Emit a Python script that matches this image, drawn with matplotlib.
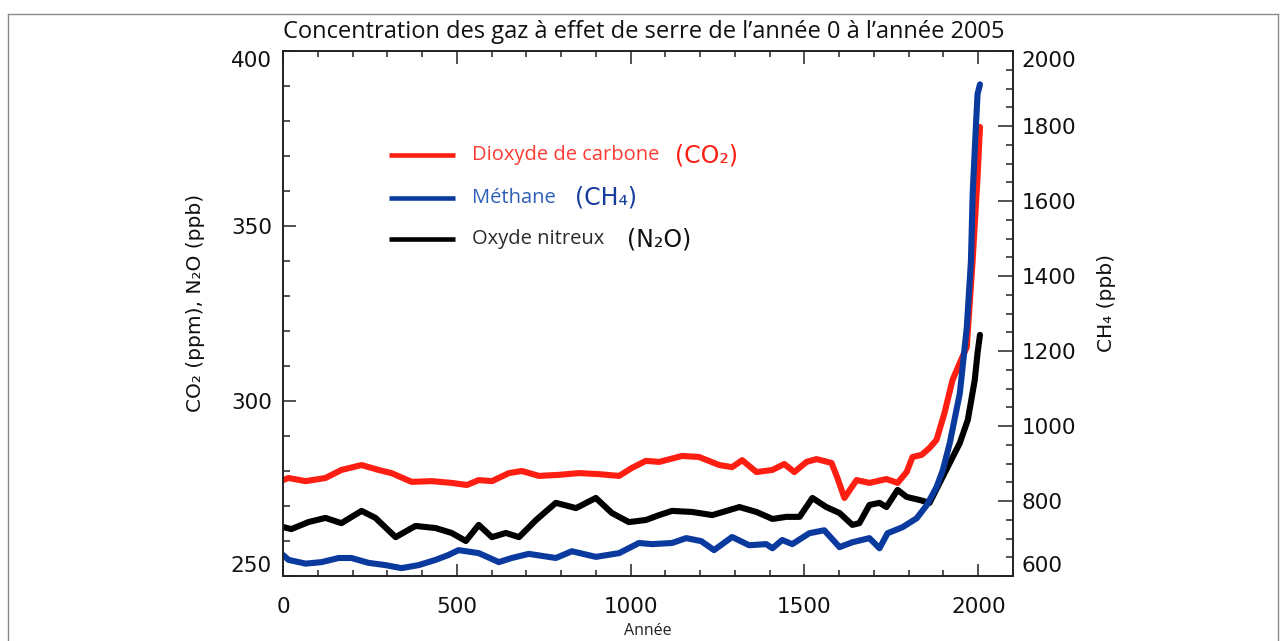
import matplotlib
matplotlib.use("Agg")
import matplotlib.pyplot as plt
from matplotlib.ticker import MultipleLocator
from matplotlib.lines import Line2D

# ---------------- data ----------------
co2_years = [0, 16, 65, 122, 168, 226, 275, 312, 370, 428, 485, 529, 563, 601, 650, 687,
             736, 794, 851, 909, 967, 1004, 1044, 1082, 1148, 1197, 1255, 1292, 1321, 1362,
             1408, 1442, 1471, 1506, 1535, 1578, 1595, 1615, 1650, 1687, 1736, 1768, 1794,
             1811, 1837, 1860, 1880, 1903, 1926, 1947, 1967, 1984, 1998, 2005]
co2_ppm = [277.4, 278.0, 277.1, 278.0, 280.3, 281.7, 280.3, 279.4, 276.9, 277.1, 276.6,
           276.0, 277.4, 277.1, 279.4, 280.0, 278.6, 278.9, 279.4, 279.1, 278.6, 280.9,
           282.9, 282.6, 284.3, 284.0, 281.7, 281.1, 283.1, 279.7, 280.3, 282.0, 279.7,
           282.6, 283.4, 282.3, 278.0, 272.3, 277.4, 276.6, 277.7, 276.6, 279.7, 284.0,
           284.6, 286.6, 288.9, 296.6, 306.0, 310.9, 315.4, 340.3, 364.0, 378.3]

n2o_years = [0, 24, 73, 122, 168, 226, 266, 324, 381, 439, 485, 526, 563, 601, 641, 679,
             728, 785, 843, 900, 946, 995, 1044, 1082, 1119, 1177, 1235, 1313, 1362, 1408,
             1448, 1486, 1523, 1563, 1601, 1638, 1658, 1687, 1716, 1736, 1768, 1794, 1832,
             1860, 1889, 1918, 1947, 1970, 1990, 1998, 2005]
n2o_ppb = [264.0, 263.4, 265.4, 266.6, 265.1, 268.6, 266.6, 261.1, 264.3, 263.7, 262.3,
           260.0, 264.6, 261.1, 262.3, 261.1, 266.0, 270.9, 269.4, 272.3, 268.0, 265.4,
           266.0, 267.4, 268.6, 268.3, 267.4, 269.7, 268.3, 266.3, 266.9, 266.9, 272.3,
           269.7, 268.0, 264.6, 265.1, 270.3, 270.9, 269.7, 274.6, 272.6, 271.7, 270.9,
           276.6, 282.3, 288.0, 294.6, 306.0, 313.7, 318.9]

ch4_years = [0, 16, 65, 111, 160, 197, 246, 295, 341, 390, 439, 476, 505, 563, 621, 658,
             707, 785, 831, 900, 967, 1024, 1062, 1119, 1160, 1203, 1240, 1292, 1341, 1390,
             1408, 1436, 1465, 1514, 1557, 1601, 1638, 1687, 1716, 1739, 1782, 1823, 1852,
             1880, 1898, 1918, 1947, 1967, 1979, 1984, 1993, 1998, 2005]
ch4_ppb = [656, 643, 633, 637, 648, 648, 635, 629, 621, 629, 643, 656, 669, 661, 637, 648,
           659, 648, 666, 651, 661, 688, 685, 688, 701, 693, 669, 704, 682, 685, 674, 696,
           685, 714, 722, 677, 690, 701, 674, 714, 730, 754, 789, 837, 882, 954, 1087, 1262,
           1440, 1619, 1794, 1885, 1911]

x_ticks = [0, 500, 1000, 1500, 2000]
left_ticks = [250, 300, 350, 400]
right_ticks = [600, 800, 1000, 1200, 1400, 1600, 1800, 2000]

title = "Concentration des gaz à effet de serre de l’année 0 à l’année 2005"
xlabel = "Année"
ylabel_left = "CO₂ (ppm), N₂O (ppb)"
ylabel_right = "CH₄ (ppb)"

RED = "#ff1e12"
BLUE = "#0a3a9e"
BLACK = "#000000"

# ---------------- figure ----------------
W, H = 1283, 641
fig = plt.figure(figsize=(W / 100, H / 100), dpi=100)
fig.patch.set_facecolor("white")

L, R, T, B = 283, 1013, 51, 576
ax = fig.add_axes([L / W, 1 - B / H, (R - L) / W, (B - T) / H])
ax2 = ax.twinx()

lw = 4.4
ax.plot(co2_years, co2_ppm, color=RED, lw=lw, solid_joinstyle="round", solid_capstyle="round")
ax.plot(n2o_years, n2o_ppb, color=BLACK, lw=lw, solid_joinstyle="round", solid_capstyle="round")
ax2.plot(ch4_years, ch4_ppb, color=BLUE, lw=lw, solid_joinstyle="round", solid_capstyle="round")

ax.set_xlim(0, 2100)
ax.set_ylim(250, 400)
ax2.set_ylim(600, 2000)

ax.set_xticks(x_ticks)
ax.xaxis.set_minor_locator(MultipleLocator(100))
ax.set_yticks(left_ticks)
ax.yaxis.set_minor_locator(MultipleLocator(10))
ax2.set_yticks(right_ticks)
ax2.yaxis.set_minor_locator(MultipleLocator(50))

for lab in ax.get_xticklabels() + ax.get_yticklabels() + ax2.get_yticklabels():
    lab.set_fontfamily("DejaVu Sans")
    lab.set_fontsize(15.5)
    lab.set_color("#111111")

# end labels nudged inside the axis span, as in the reference
for a in (ax, ax2):
    ticks = a.yaxis.get_major_ticks()
    ticks[0].label1.set_va("bottom")
    ticks[0].label2.set_va("bottom")
    ticks[-1].label1.set_va("top")
    ticks[-1].label2.set_va("top")

spine_c = "#222222"
for a in (ax, ax2):
    for s in a.spines.values():
        s.set_color(spine_c)
        s.set_linewidth(1.2)

ax.tick_params(axis="x", which="major", direction="in", length=9, width=1.1,
               top=True, bottom=True, pad=15, color=spine_c)
ax.tick_params(axis="x", which="minor", direction="in", length=4.5, width=1.1,
               top=True, bottom=True, color=spine_c)
ax.tick_params(axis="y", which="major", direction="in", length=9, width=1.1,
               left=True, right=False, pad=8, color=spine_c)
ax.tick_params(axis="y", which="minor", direction="in", length=5, width=1.1,
               left=True, right=False, color=spine_c)
ax2.tick_params(axis="y", which="major", direction="in", length=10.5, width=1.1,
                right=True, left=False, pad=6, color=spine_c)
ax2.tick_params(axis="y", which="minor", direction="in", length=5, width=1.1,
                right=True, left=False, color=spine_c)

# axis labels
fig.text(648 / W, 1 - 631 / H, xlabel, ha="center", va="center",
         family="Open Sans", fontsize=11.5, color="#222222")
fig.text(196 / W, 1 - 303 / H, ylabel_left, ha="center", va="center", rotation=90,
         family="DejaVu Sans", fontsize=14.5, color="#111111")
fig.text(1107 / W, 1 - 303 / H, ylabel_right, ha="center", va="center", rotation=90,
         family="DejaVu Sans", fontsize=14.5, color="#111111")

# title
fig.text(644 / W, 1 - 32 / H, title, ha="center", va="center",
         family="Open Sans", fontsize=17, color="#111111")

# manual legend (axes fraction coordinates)
def fx(px):
    return (px - L) / (R - L)

def fy(py):
    return (B - py) / (B - T)

legend_items = [
    (155, RED, "Dioxyde de carbone", "#ff3a33", "(CO₂)", RED, 675),
    (198, BLUE, "Méthane", "#2c5fb8", "(CH₄)", "#173d9c", 575),
    (239, BLACK, "Oxyde nitreux", "#2a2a2a", "(N₂O)", "#111111", 627),
]
for py, lc, txt, tc, chem, cc, cx in legend_items:
    ax.add_line(Line2D([fx(389), fx(455)], [fy(py), fy(py)], transform=ax.transAxes,
                       color=lc, lw=3.3, solid_capstyle="butt"))
    ax.text(fx(472), fy(py), txt, transform=ax.transAxes, ha="left", va="center",
            family="Open Sans", fontsize=14.5, color=tc)
    ax.text(fx(cx), fy(py), chem, transform=ax.transAxes, ha="left", va="center",
            family="DejaVu Sans", fontsize=17, color=cc)

# outer frame of the picture
fc = "#8a8a8a"
fig.add_artist(Line2D([8 / W, 8 / W], [0, 1 - 14 / H], transform=fig.transFigure, color=fc, lw=1.0))
fig.add_artist(Line2D([8 / W, 1278 / W], [1 - 14 / H, 1 - 14 / H], transform=fig.transFigure, color=fc, lw=1.0))
fig.add_artist(Line2D([1278 / W, 1278 / W], [0, 1 - 14 / H], transform=fig.transFigure, color=fc, lw=1.0))

fig.savefig("out.png", dpi=100)
